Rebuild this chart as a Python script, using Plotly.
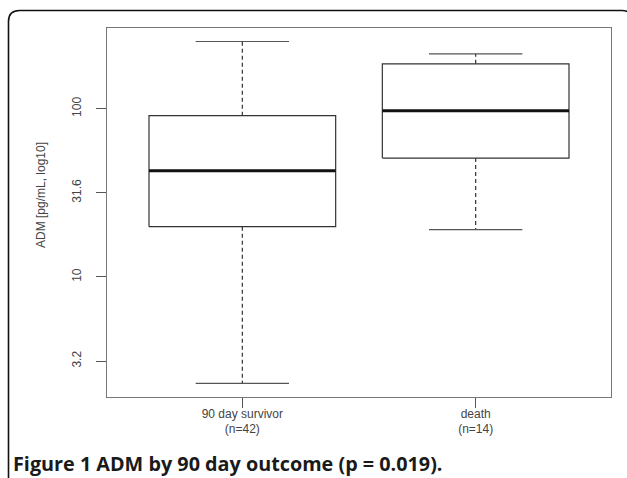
import plotly.graph_objects as go

# ---- data ----
groups = ["90 day survivor", "death"]
n_obs = [42, 14]
lower_whisker = [2.33, 19.1]
q1 = [19.9, 50.9]
median = [42.8, 97.3]
q3 = [90.9, 185.0]
upper_whisker = [251.0, 212.0]

tick_exponents = [0.5, 1.0, 1.5, 2.0]
tick_labels = ["3.2", "10", "31.6", "100"]

y_title = "ADM [pg/mL, log10]"
caption = "Figure 1 ADM by 90 day outcome (p = 0.019)."

# ---- layout geometry (page pixels) ----
W, H = 627, 478
PLOT_L, PLOT_R, PLOT_T, PLOT_B = 107, 611, 28, 397
L, R, T, B = PLOT_L, W - PLOT_R, PLOT_T, H - PLOT_B
pw, ph = PLOT_R - PLOT_L, PLOT_B - PLOT_T

def px_x(p):
    return (p - PLOT_L) / pw

def px_y(p):
    return (PLOT_B - p) / ph

fig = go.Figure()
box_col = "#333333"
half_box, half_cap = 0.4, 0.2

for i, g in enumerate(groups):
    p = i + 1
    fig.add_trace(go.Scatter(
        x=[p - half_box, p + half_box, p + half_box, p - half_box, p - half_box],
        y=[q1[i], q1[i], q3[i], q3[i], q1[i]],
        mode="lines", line=dict(color=box_col, width=1.2), hoverinfo="skip"))
    for a, b in ((q3[i], upper_whisker[i]), (q1[i], lower_whisker[i])):
        fig.add_trace(go.Scatter(
            x=[p, p], y=[a, b], mode="lines",
            line=dict(color=box_col, width=1.2, dash="4px,3px"), hoverinfo="skip"))
    for v in (upper_whisker[i], lower_whisker[i]):
        fig.add_trace(go.Scatter(
            x=[p - half_cap, p + half_cap], y=[v, v], mode="lines",
            line=dict(color="#555555", width=1.2), hoverinfo="skip"))
    fig.add_trace(go.Scatter(
        x=[p - half_box, p + half_box], y=[median[i], median[i]], mode="lines",
        line=dict(color="#111111", width=3), hoverinfo="skip"))

tick_vals = [10 ** e for e in tick_exponents]
x_text = [f"{g}<br>(n={n})" for g, n in zip(groups, n_obs)]

fig.update_layout(
    width=W, height=H,
    margin=dict(l=L, r=R, t=T, b=B, autoexpand=False),
    paper_bgcolor="white", plot_bgcolor="white",
    showlegend=False, hovermode=False,
    font=dict(family="Liberation Sans, Arial, sans-serif", size=12, color="#444444"),
    xaxis=dict(
        range=[0.42, 2.58], tickvals=[1, 2], ticktext=x_text,
        ticks="outside", ticklen=10, tickcolor="#555555", tickwidth=1,
        showline=True, linecolor="#777777", linewidth=1.2, mirror=True,
        showgrid=False, zeroline=False, fixedrange=True,
        tickfont=dict(size=12, color="#444444"),
        ticklabelstandoff=-5,
    ),
    yaxis=dict(
        type="log", range=[0.286, 2.480],
        tickvals=tick_vals, ticktext=tick_labels, tickangle=-90,
        ticks="outside", ticklen=10, tickcolor="#555555", tickwidth=1,
        showline=True, linecolor="#777777", linewidth=1.2, mirror=True,
        showgrid=False, zeroline=False, fixedrange=True,
        tickfont=dict(size=12, color="#444444"),
        ticklabelstandoff=10,
    ),
)

fig.add_annotation(
    text=y_title, xref="paper", yref="paper",
    x=px_x(41), y=px_y(195), xanchor="center", yanchor="middle",
    textangle=-90, showarrow=False,
    font=dict(family="Liberation Sans, Arial, sans-serif", size=12, color="#444444"))

fig.add_annotation(
    text="<b>" + caption + "</b>", xref="paper", yref="paper",
    x=px_x(11), y=px_y(463), xanchor="left", yanchor="middle",
    showarrow=False,
    font=dict(family="Open Sans, sans-serif", size=19.8, color="#1a1a1a"))

r = 11
xl, yt, xr, yb = 8.5, 10.5, 633, 495
path = (f"M {px_x(xl)},{px_y(yb)} L {px_x(xl)},{px_y(yt + r)} "
        f"Q {px_x(xl)},{px_y(yt)} {px_x(xl + r)},{px_y(yt)} "
        f"L {px_x(xr - r)},{px_y(yt)} Q {px_x(xr)},{px_y(yt)} {px_x(xr)},{px_y(yt + r)} "
        f"L {px_x(xr)},{px_y(yb)}")
fig.add_shape(type="path", path=path, xref="paper", yref="paper",
              line=dict(color="#111111", width=1.6), layer="above")

fig.write_html(
    "out.html",
    config={"displayModeBar": False, "staticPlot": True},
    post_script="document.body.style.margin='0';document.body.style.overflow='hidden';",
)
